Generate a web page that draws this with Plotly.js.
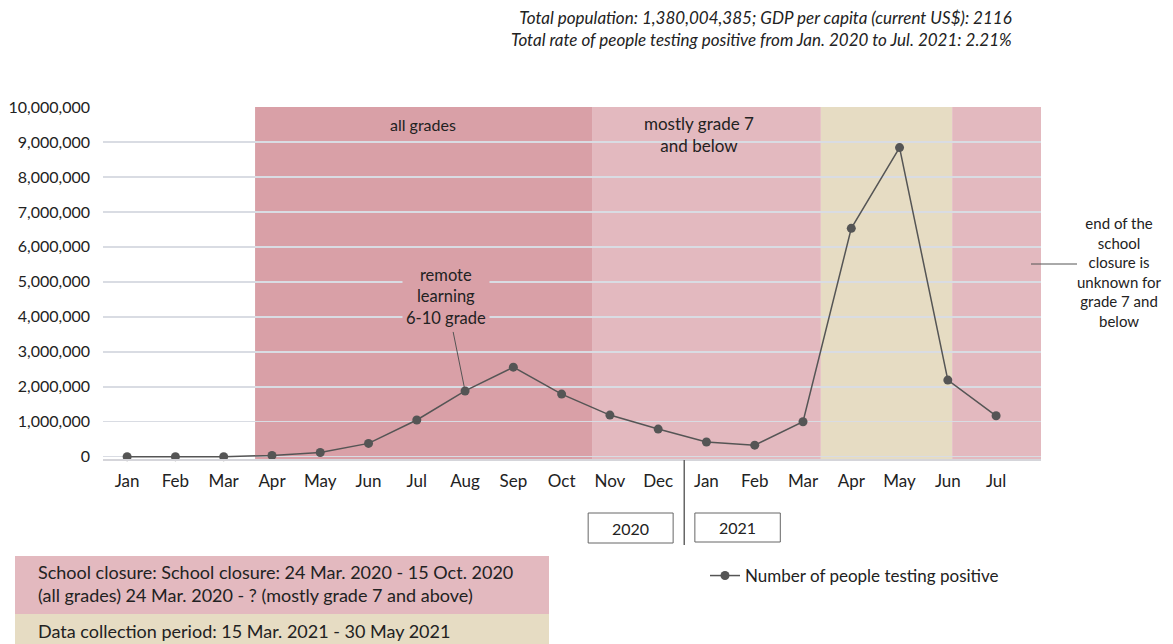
<!DOCTYPE html>
<html>
<head>
<meta charset="utf-8">
<script src="https://cdn.plot.ly/plotly-3.0.1.min.js"></script>
<style>html,body{margin:0;padding:0;background:#fff;}#chart{width:1173px;height:644px;}</style>
</head>
<body>
<div id="chart"></div>
<script>
const months = ["Jan","Feb","Mar","Apr","May","Jun","Jul","Aug","Sep","Oct","Nov","Dec","Jan","Feb","Mar","Apr","May","Jun","Jul"];
const positives = [0, 0, 1000, 35000, 120000, 380000, 1050000, 1880000, 2560000, 1790000, 1190000, 790000, 420000, 330000, 1000000, 6530000, 8840000, 2190000, 1170000];
const yTicks = [0,1000000,2000000,3000000,4000000,5000000,6000000,7000000,8000000,9000000,10000000];
const yTickText = ["0","1,000,000","2,000,000","3,000,000","4,000,000","5,000,000","6,000,000","7,000,000","8,000,000","9,000,000","10,000,000"];
const periodStart = [2.65, 9.63, 14.37, 17.09];
const periodEnd = [9.63, 14.37, 17.09, 18.93];
const periodColor = ["#d9a0a7", "#e3b9bf", "#e6dcc3", "#e3b9bf"];
const years = ["2020", "2021"];

const xIdx = months.map((m, i) => i);
const font = "Lato, 'Open Sans', sans-serif";
const txt = "#222";
const py = p => (459 - p) / 352;
const px = p => (p - 103) / 938;

const shapes = periodStart.map((s, i) => ({
  type: "rect", xref: "x", yref: "y", x0: s, x1: periodEnd[i], y0: -66000, y1: 10000000,
  fillcolor: periodColor[i], line: {width: 0}, layer: "below"
}));
shapes.push({type: "line", xref: "x", yref: "paper", x0: 11.54, x1: 11.54, y0: -0.003, y1: py(545), line: {color: "#666", width: 1.5}});
shapes.push({type: "rect", xref: "x", yref: "paper", x0: 9.55, x1: 11.31, y0: py(513), y1: py(543), line: {color: "#666", width: 1}, fillcolor: "rgba(0,0,0,0)"});
shapes.push({type: "rect", xref: "x", yref: "paper", x0: 11.76, x1: 13.53, y0: py(513), y1: py(542), line: {color: "#666", width: 1}, fillcolor: "rgba(0,0,0,0)"});
shapes.push({type: "rect", xref: "paper", yref: "paper", x0: px(15), x1: px(549), y0: py(556), y1: py(614), line: {width: 0}, fillcolor: "#e3b9bf"});
shapes.push({type: "rect", xref: "paper", yref: "paper", x0: px(15), x1: px(549), y0: py(614), y1: py(648), line: {width: 0}, fillcolor: "#e6dcc3"});
shapes.push({type: "line", xref: "paper", yref: "paper", x0: px(1031), x1: px(1077), y0: py(264), y1: py(264), line: {color: "#555", width: 1}});

const annotations = [
  {xref: "paper", yref: "paper", x: px(1014), y: py(29), xanchor: "right", yanchor: "middle", align: "right", showarrow: false,
   text: "<i>Total population: 1,380,004,385; GDP per capita (current US$): 2116</i><br><i>Total rate of people testing positive from Jan. 2020 to Jul. 2021: 2.21%</i>",
   font: {family: font, size: 17, color: txt}},
  {xref: "x", yref: "paper", x: 6.13, y: py(124), xanchor: "center", yanchor: "middle", showarrow: false, text: "all grades", font: {family: font, size: 16, color: txt}},
  {xref: "x", yref: "paper", x: 11.85, y: py(134), xanchor: "center", yanchor: "middle", showarrow: false, text: "mostly grade 7<br>and below", font: {family: font, size: 17, color: txt}},
  {xref: "x", yref: "y", x: 7, y: positives[7], ax: -19, ay: -94, showarrow: true, arrowhead: 0, arrowwidth: 1, arrowcolor: "#555", standoff: 4,
   text: "remote<br>learning<br>6-10 grade", bgcolor: "#d9a0a7", borderpad: 3, font: {family: font, size: 16.5, color: txt}},
  {xref: "paper", yref: "paper", x: px(1119), y: py(272), xanchor: "center", yanchor: "middle", showarrow: false, align: "center",
   text: "end of the<br>school<br>closure is<br>unknown for<br>grade 7 and<br>below", font: {family: font, size: 15, color: txt}},
  {xref: "x", yref: "paper", x: 10.43, y: py(528), xanchor: "center", yanchor: "middle", showarrow: false, text: years[0], font: {family: font, size: 16, color: txt}},
  {xref: "x", yref: "paper", x: 12.645, y: py(527), xanchor: "center", yanchor: "middle", showarrow: false, text: years[1], font: {family: font, size: 16, color: txt}},
  {xref: "paper", yref: "paper", x: px(36), y: py(583), xanchor: "left", yanchor: "middle", align: "left", showarrow: false,
   text: "School closure: School closure: 24 Mar. 2020 - 15 Oct. 2020<br>(all grades) 24 Mar. 2020 - ? (mostly grade 7 and above)", font: {family: font, size: 18, color: txt}},
  {xref: "paper", yref: "paper", x: px(36), y: py(631), xanchor: "left", yanchor: "middle", align: "left", showarrow: false,
   text: "Data collection period: 15 Mar. 2021 - 30 May 2021", font: {family: font, size: 18, color: txt}}
];

const trace = {
  x: xIdx, y: positives, type: "scatter", mode: "lines+markers", name: "Number of people testing positive",
  line: {color: "#555", width: 1.5}, marker: {color: "#555", size: 9}, cliponaxis: false
};

const layout = {
  width: 1173, height: 644,
  margin: {l: 103, r: 132, t: 107, b: 185},
  paper_bgcolor: "#fff", plot_bgcolor: "#fff",
  font: {family: font, color: txt},
  showlegend: true,
  legend: {x: px(705), y: py(576), xanchor: "left", yanchor: "middle", font: {family: font, size: 17, color: txt}, bgcolor: "rgba(0,0,0,0)"},
  xaxis: {range: [-0.5, 18.93], tickmode: "array", tickvals: xIdx, ticktext: months, showgrid: false, zeroline: false,
          showline: true, linecolor: "#d5d5da", linewidth: 2, ticks: "", ticklabelstandoff: 6, tickfont: {family: font, size: 17, color: txt}, fixedrange: true},
  yaxis: {range: [-66000, 10000000], tickmode: "array", tickvals: yTicks, ticktext: yTickText, showgrid: true, gridcolor: "#d9dce3", gridwidth: 1.5,
          zeroline: false, showline: false, ticks: "", ticklabelstandoff: 12, tickfont: {family: font, size: 16, color: txt}, fixedrange: true},
  shapes: shapes, annotations: annotations
};

Plotly.newPlot("chart", [trace], layout, {displayModeBar: false, staticPlot: true});
</script>
</body>
</html>
